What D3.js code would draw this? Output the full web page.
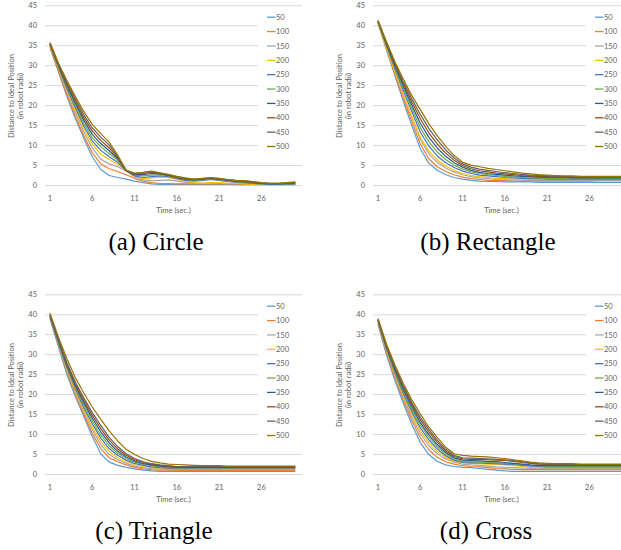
<!DOCTYPE html>
<html>
<head>
<meta charset="utf-8">
<script src="https://cdn.jsdelivr.net/npm/d3@7"></script>
<style>
body{margin:0;background:#fff}
.caption{font-family:"Liberation Serif","DejaVu Serif",serif;font-size:25px;fill:#000}
</style>
</head>
<body>
<div id="fig"></div>
<script>

// time steps (category axis) and tick labels
const times = [1,2,3,4,5,6,7,8,9,10,11,12,13,14,15,16,17,18,19,20,21,22,23,24,25,26,27,28,29,30];
const xTickLabels = [1,6,11,16,21,26];
const yTicks = [0,5,10,15,20,25,30,35,40,45];
const seriesNames = ["50","100","150","200","250","300","350","400","450","500"];
const seriesColors = ["#5B9BD5","#ED7D31","#A5A5A5","#FFC000","#4472C4","#70AD47","#255E91","#9E480E","#636363","#997300"];

// (a) Circle
const circle = [
	[34.8,28.5,22.3,16.8,11.8,7.2,4.0,2.5,2.0,1.6,1.1,0.7,0.4,0.3,0.3,0.3,0.3,0.3,0.3,0.3,0.3,0.3,0.2,0.2,0.2,0.2,0.2,0.2,0.2,0.2],
	[34.4,28.6,22.8,17.3,12.4,8.2,5.4,4.2,3.5,2.7,1.8,1.1,0.7,0.5,0.5,0.4,0.4,0.4,0.4,0.4,0.4,0.4,0.3,0.3,0.3,0.3,0.3,0.3,0.3,0.3],
	[35.0,29.1,23.5,18.2,13.4,9.4,6.6,5.4,4.7,3.6,2.2,1.4,1.2,1.3,1.4,1.1,0.8,0.6,0.5,0.5,0.5,0.4,0.4,0.4,0.3,0.3,0.3,0.3,0.3,0.4],
	[35.2,29.4,23.9,18.8,14.2,10.4,7.8,6.5,5.3,3.7,2.3,1.7,1.9,2.1,2.0,1.5,1.0,0.7,0.6,0.7,0.7,0.6,0.5,0.4,0.3,0.3,0.3,0.3,0.3,0.4],
	[35.3,29.6,24.3,19.4,14.9,11.2,8.8,7.2,5.8,3.7,2.4,2.0,2.2,2.4,2.2,1.7,1.3,1.1,1.3,1.5,1.3,1.0,0.8,0.7,0.5,0.4,0.3,0.3,0.3,0.4],
	[35.4,29.8,24.7,20.0,15.6,12.0,9.7,8.0,6.3,3.8,2.6,2.4,2.6,2.7,2.4,1.9,1.5,1.3,1.4,1.6,1.4,1.1,0.9,0.8,0.6,0.5,0.4,0.4,0.4,0.5],
	[35.5,30.0,25.1,20.6,16.3,12.8,10.5,8.7,6.7,3.8,2.7,2.7,3.0,2.9,2.5,2.0,1.6,1.4,1.6,1.8,1.6,1.3,1.1,0.9,0.7,0.5,0.4,0.4,0.5,0.6],
	[35.6,30.2,25.5,21.1,17.0,13.6,11.3,9.4,7.0,3.8,2.9,3.0,3.3,3.0,2.6,2.1,1.7,1.5,1.6,1.8,1.6,1.4,1.2,1.0,0.8,0.6,0.5,0.5,0.6,0.7],
	[35.7,30.4,25.9,21.7,17.7,14.4,12.1,10.1,7.3,3.8,3.0,3.2,3.5,3.1,2.7,2.2,1.8,1.6,1.7,1.9,1.7,1.4,1.2,1.1,0.9,0.6,0.5,0.5,0.6,0.8],
	[35.8,30.6,26.3,22.3,18.5,15.3,13.0,10.8,7.6,3.8,3.1,3.3,3.6,3.2,2.8,2.3,1.9,1.6,1.8,2.0,1.8,1.5,1.3,1.2,1.0,0.7,0.6,0.6,0.7,0.9]
];

// (b) Rectangle
const rectangle = [
	[40.6,34.0,27.5,21.0,15.0,9.2,5.6,3.8,2.7,2.0,1.6,1.3,1.1,1.0,1.0,0.9,0.9,0.9,0.9,0.8,0.8,0.8,0.8,0.8,0.8,0.8,0.8,0.8,0.8,0.8],
	[40.8,34.3,28.0,21.8,16.0,10.4,6.7,4.7,3.5,2.7,2.1,1.7,1.5,1.3,1.2,1.2,1.1,1.1,1.1,1.1,1.1,1.1,1.1,1.1,1.1,1.1,1.2,1.2,1.2,1.2],
	[40.9,34.6,28.6,22.6,17.0,11.6,8.0,5.8,4.4,3.4,2.7,2.2,1.9,1.7,1.5,1.4,1.4,1.3,1.3,1.3,1.3,1.3,1.3,1.3,1.3,1.3,1.3,1.3,1.3,1.3],
	[40.7,34.5,28.5,22.7,17.3,12.0,8.6,6.4,4.9,3.8,3.0,2.5,2.2,2.0,1.8,1.7,1.6,1.6,1.5,1.5,1.5,1.5,1.5,1.5,1.5,1.5,1.5,1.5,1.5,1.5],
	[41.0,35.0,29.2,23.7,18.5,13.4,9.9,7.4,5.7,4.5,3.6,3.0,2.6,2.4,2.2,2.0,1.9,1.8,1.7,1.7,1.6,1.6,1.6,1.6,1.6,1.6,1.6,1.6,1.6,1.6],
	[41.0,35.2,29.6,24.3,19.3,14.5,11.0,8.4,6.5,5.1,4.1,3.4,3.0,2.7,2.5,2.3,2.1,2.0,1.9,1.9,1.8,1.8,1.8,1.8,1.8,1.8,1.8,1.8,1.8,1.8],
	[41.1,35.4,30.0,24.9,20.1,15.6,12.1,9.4,7.3,5.7,4.6,3.8,3.3,3.0,2.8,2.6,2.4,2.3,2.2,2.1,2.0,2.0,2.0,1.9,1.9,1.9,1.9,1.9,1.9,1.9],
	[41.2,35.6,30.4,25.5,20.9,16.7,13.2,10.4,8.1,6.3,5.0,4.2,3.7,3.4,3.1,2.9,2.7,2.5,2.4,2.3,2.2,2.1,2.1,2.0,2.0,2.0,2.0,2.0,2.0,2.0],
	[41.2,35.8,30.7,26.0,21.7,17.8,14.3,11.4,8.9,6.9,5.4,4.6,4.1,3.8,3.5,3.2,3.0,2.8,2.6,2.5,2.4,2.3,2.2,2.2,2.1,2.1,2.1,2.1,2.1,2.1],
	[41.4,36.0,31.0,26.6,22.5,19.0,15.5,12.5,9.8,7.5,5.8,5.1,4.7,4.3,4.0,3.7,3.4,3.1,2.9,2.7,2.6,2.5,2.4,2.4,2.3,2.3,2.3,2.3,2.3,2.3]
];

// (c) Triangle
const triangle = [
	[39.0,32.0,25.0,19.5,14.5,9.5,5.2,3.1,2.3,1.8,1.4,1.1,0.9,0.8,0.8,0.8,0.8,0.8,0.8,0.8,0.8,0.8,0.8,0.8,0.8,0.8,0.8,0.8,0.8,0.8],
	[39.3,32.4,25.6,20.0,15.0,10.3,6.5,4.2,3.2,2.4,1.8,1.4,1.2,1.1,1.1,1.0,1.0,1.0,1.0,1.0,1.0,1.0,1.0,1.0,1.0,1.0,1.0,1.0,1.0,1.0],
	[39.5,32.7,26.0,20.6,15.7,11.2,7.5,5.0,3.7,2.8,2.1,1.7,1.5,1.4,1.3,1.3,1.3,1.3,1.3,1.3,1.3,1.3,1.3,1.3,1.3,1.3,1.3,1.3,1.3,1.3],
	[39.6,32.9,26.4,21.0,16.2,11.9,8.3,5.8,4.2,3.2,2.5,2.0,1.7,1.6,1.5,1.5,1.5,1.5,1.5,1.5,1.5,1.5,1.5,1.5,1.5,1.5,1.5,1.5,1.5,1.5],
	[39.5,33.0,26.7,21.5,16.8,12.7,9.1,6.5,4.8,3.6,2.8,2.3,1.9,1.7,1.6,1.6,1.6,1.6,1.6,1.6,1.6,1.6,1.6,1.6,1.6,1.6,1.6,1.6,1.6,1.6],
	[39.8,33.3,27.0,21.9,17.4,13.4,9.9,7.2,5.3,4.0,3.1,2.5,2.2,1.9,1.8,1.7,1.7,1.7,1.7,1.7,1.7,1.7,1.7,1.7,1.7,1.7,1.7,1.7,1.7,1.7],
	[39.9,33.5,27.4,22.3,18.0,14.1,10.7,7.9,5.8,4.4,3.4,2.7,2.4,2.1,1.9,1.8,1.8,1.8,1.8,1.8,1.8,1.8,1.8,1.8,1.8,1.8,1.8,1.8,1.8,1.8],
	[40.0,33.7,27.7,22.7,18.6,14.8,11.5,8.6,6.4,4.8,3.7,3.0,2.6,2.3,2.1,1.9,1.9,1.9,1.9,1.9,1.9,1.9,1.9,1.9,1.9,1.9,1.9,1.9,1.9,1.9],
	[40.1,33.9,28.0,23.1,19.2,15.5,12.3,9.3,7.0,5.2,4.0,3.2,2.7,2.4,2.2,2.0,2.0,2.0,2.0,2.0,2.0,2.0,2.0,2.0,2.0,2.0,2.0,2.0,2.0,2.0],
	[40.4,34.4,29.0,24.2,20.4,16.9,13.8,10.9,8.4,6.3,5.0,4.0,3.3,2.9,2.6,2.5,2.4,2.3,2.2,2.2,2.2,2.1,2.1,2.1,2.1,2.1,2.1,2.1,2.1,2.1]
];

// (d) Cross
const cross = [
	[37.6,30.0,23.5,17.8,12.6,8.0,5.0,3.3,2.4,2.0,1.8,1.7,1.5,1.3,1.1,0.9,0.8,0.8,0.8,0.8,0.8,0.8,0.8,0.8,0.8,0.8,0.8,0.8,0.8,0.8],
	[37.9,30.5,24.2,18.6,13.6,9.2,6.2,4.3,3.2,2.6,2.2,2.0,1.9,1.7,1.5,1.4,1.3,1.2,1.2,1.2,1.2,1.2,1.2,1.2,1.2,1.2,1.2,1.2,1.2,1.2],
	[38.1,30.9,24.7,19.3,14.4,10.2,7.2,5.2,3.9,3.1,2.6,2.4,2.3,2.1,1.9,1.8,1.7,1.6,1.5,1.5,1.5,1.5,1.5,1.5,1.5,1.5,1.5,1.5,1.5,1.5],
	[38.3,31.2,25.1,19.8,15.1,11.0,8.0,5.8,4.3,3.4,2.9,2.8,2.7,2.6,2.5,2.4,2.2,2.0,1.8,1.7,1.7,1.7,1.7,1.7,1.7,1.7,1.7,1.7,1.7,1.7],
	[38.4,31.4,25.5,20.3,15.7,11.7,8.7,6.4,4.7,3.6,3.0,2.9,2.9,2.8,2.7,2.6,2.5,2.3,2.1,2.0,1.9,1.9,1.9,1.9,1.9,1.9,1.9,1.9,1.9,1.9],
	[38.6,31.7,25.9,20.8,16.3,12.4,9.4,7.0,5.1,3.9,3.3,3.2,3.1,3.0,2.9,2.8,2.7,2.5,2.3,2.2,2.1,2.1,2.1,2.0,2.0,2.0,2.0,2.0,2.0,2.0],
	[38.7,32.0,26.3,21.3,16.9,13.0,10.0,7.5,5.5,4.2,3.6,3.5,3.4,3.3,3.2,3.0,2.8,2.6,2.4,2.3,2.2,2.2,2.2,2.2,2.2,2.2,2.2,2.2,2.2,2.2],
	[38.8,32.2,26.7,21.8,17.5,13.7,10.7,8.1,5.9,4.5,3.9,3.8,3.8,3.7,3.6,3.5,3.3,3.0,2.8,2.6,2.5,2.5,2.5,2.4,2.4,2.4,2.4,2.4,2.4,2.4],
	[38.9,32.4,27.0,22.2,18.0,14.3,11.3,8.6,6.3,4.8,4.2,4.1,4.0,3.9,3.8,3.7,3.5,3.2,2.9,2.7,2.6,2.6,2.6,2.5,2.5,2.5,2.5,2.5,2.5,2.5],
	[39.1,32.7,27.4,22.8,18.7,15.2,11.9,9.3,6.8,5.2,4.8,4.6,4.5,4.4,4.2,4.0,3.7,3.4,3.1,2.9,2.8,2.7,2.7,2.7,2.6,2.6,2.6,2.6,2.6,2.6]
];

const panels = [
	{data:circle, caption:"(a) Circle", dx:0, dy:0, cx:156},
	{data:rectangle, caption:"(b) Rectangle", dx:328, dy:0, cx:160},
	{data:triangle, caption:"(c) Triangle", dx:0, dy:289, cx:154},
	{data:cross, caption:"(d) Cross", dx:328, dy:289, cx:158}
];

const W = 621, H = 550;
const txt = "#636363", grid = "#d9d9d9";
const font = "Lato, 'Open Sans', sans-serif";

const X = d3.scalePoint().domain(times).range([50, 295.3]);
const Y = d3.scaleLinear().domain([0,45]).range([185.5, 5.8]);
const line = d3.line().x((d,i)=>X(times[i])).y(d=>Y(d));

const svg = d3.select("#fig").append("svg")
		.attr("width",W).attr("height",H)
		.attr("viewBox","0 0 "+W+" "+H)
		.style("display","block")
		.style("background","#fff");

panels.forEach(function(P){
	const g = svg.append("g").attr("transform","translate("+P.dx+","+P.dy+")");

	// gridlines
	g.selectAll(".grid").data(yTicks).enter().append("line")
		.attr("x1",45).attr("x2",302)
		.attr("y1",d=>Y(d)).attr("y2",d=>Y(d))
		.style("stroke",grid).style("stroke-width",1);

	// y tick labels
	g.selectAll(".ylab").data(yTicks).enter().append("text")
		.attr("x",37).attr("y",d=>Y(d)+2.6)
		.text(d=>d)
		.style("text-anchor","end")
		.style("font-family",font).style("font-size","7.5px").style("fill",txt);

	// x tick labels
	g.selectAll(".xlab").data(xTickLabels).enter().append("text")
		.attr("x",d=>X(d)).attr("y",201)
		.text(d=>d)
		.style("text-anchor","middle")
		.style("font-family",font).style("font-size","7.5px").style("fill",txt);

	g.append("text").attr("x",173.5).attr("y",212.5)
		.text("Time (sec.)")
		.style("text-anchor","middle")
		.style("font-family",font).style("font-size","7.5px").style("fill",txt);

	const yt = g.append("g").attr("transform","translate(14,96) rotate(-90)");
	yt.append("text").attr("x",0).attr("y",0).text("Distance to Ideal Position")
		.style("text-anchor","middle")
		.style("font-family",font).style("font-size","7.5px").style("fill",txt);
	yt.append("text").attr("x",0).attr("y",8.5).text("(in robot radii)")
		.style("text-anchor","middle")
		.style("font-family",font).style("font-size","7.5px").style("fill",txt);

	// legend background hides the gridlines behind it
	g.append("rect").attr("x",258).attr("y",10).attr("width",50).attr("height",150)
		.style("fill","#fff");

	const leg = g.selectAll(".leg").data(seriesNames).enter().append("g")
		.attr("transform",(d,i)=>"translate(267,"+(17.2+i*14.37)+")");
	leg.append("line").attr("x1",0).attr("x2",8.5).attr("y1",0).attr("y2",0)
		.style("stroke",(d,i)=>seriesColors[i]).style("stroke-width",1.3);
	leg.append("text").attr("x",9).attr("y",2.7).text(d=>d)
		.style("font-family",font).style("font-size","7.5px").style("fill",txt);

	// series
	g.selectAll(".series").data(P.data).enter().append("path")
		.attr("d",d=>line(d))
		.style("fill","none")
		.style("stroke",(d,i)=>seriesColors[i])
		.style("stroke-width",1.2)
		.style("stroke-linejoin","round");

	// caption
	g.append("text").attr("class","caption")
		.attr("x",P.cx).attr("y",250)
		.attr("text-anchor","middle")
		.text(P.caption);
});

</script>
</body>
</html>
